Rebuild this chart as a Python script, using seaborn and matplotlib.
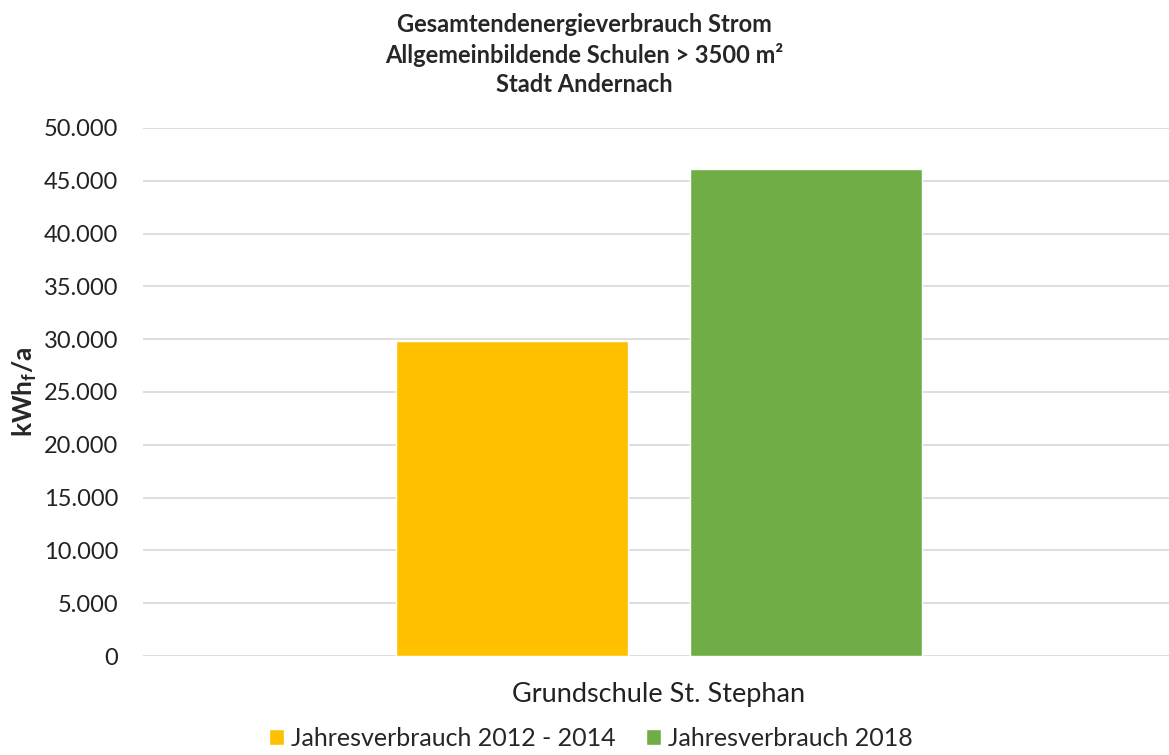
import seaborn as sns
import pandas as pd
import matplotlib.pyplot as plt
from matplotlib.ticker import FixedLocator

# data
schulen = ["Grundschule St. Stephan"]
zeitraum = ["Jahresverbrauch 2012 - 2014", "Jahresverbrauch 2018"]
verbrauch = [29800, 46100]
yticks = [0, 5000, 10000, 15000, 20000, 25000, 30000, 35000, 40000, 45000, 50000]
ytick_labels = ["0", "5.000", "10.000", "15.000", "20.000", "25.000",
                "30.000", "35.000", "40.000", "45.000", "50.000"]
farben = ["#FFC000", "#70AD47"]

df = pd.DataFrame({"Schule": schulen * len(zeitraum),
                   "Zeitraum": zeitraum,
                   "kWh": verbrauch})

sns.set_style("white")
plt.rcParams['font.family'] = ['Lato', 'DejaVu Sans']
plt.rcParams['mathtext.fontset'] = 'custom'
plt.rcParams['mathtext.bf'] = 'Lato:bold'
plt.rcParams['mathtext.rm'] = 'Lato'

fig = plt.figure(figsize=(11.69, 7.55), dpi=100)
ax = fig.add_axes([0.1223, 0.1311, 0.8828, 0.6994])

sns.barplot(data=df, x="Schule", y="kWh", hue="Zeitraum", palette=farben,
            width=0.5697, gap=0.211, ax=ax, saturation=1)

ax.set_ylim(0, 50000)
ax.set_xlim(-0.5, 0.5)
ax.yaxis.set_major_locator(FixedLocator(yticks))
ax.set_yticklabels(ytick_labels)
ax.grid(axis="y", color="#d9d9d9", linewidth=1.2)
ax.set_axisbelow(True)
sns.despine(ax=ax, left=True, bottom=True)
ax.tick_params(axis="y", length=0, labelsize=17, pad=18, colors="#222222")
ax.tick_params(axis="x", length=0, labelsize=19.5, pad=19, colors="#222222")
ax.set_xlabel("")
ax.set_ylabel(r"kWh$_\mathbf{f}$/a", fontsize=19, fontweight="bold", labelpad=3)

fig.text(0.5, 0.928,
         "Gesamtendenergieverbrauch Strom\nAllgemeinbildende Schulen > 3500 m²\nStadt Andernach",
         ha="center", va="center", fontsize=17, fontweight="bold", linespacing=1.35)

sns.move_legend(ax, "center", bbox_to_anchor=(0.434, -0.156), ncol=2, frameon=False,
                title=None, fontsize=18, handlelength=0.6, handleheight=0.6,
                columnspacing=1.2, handletextpad=0.3)

fig.savefig("out.png", dpi=100)
